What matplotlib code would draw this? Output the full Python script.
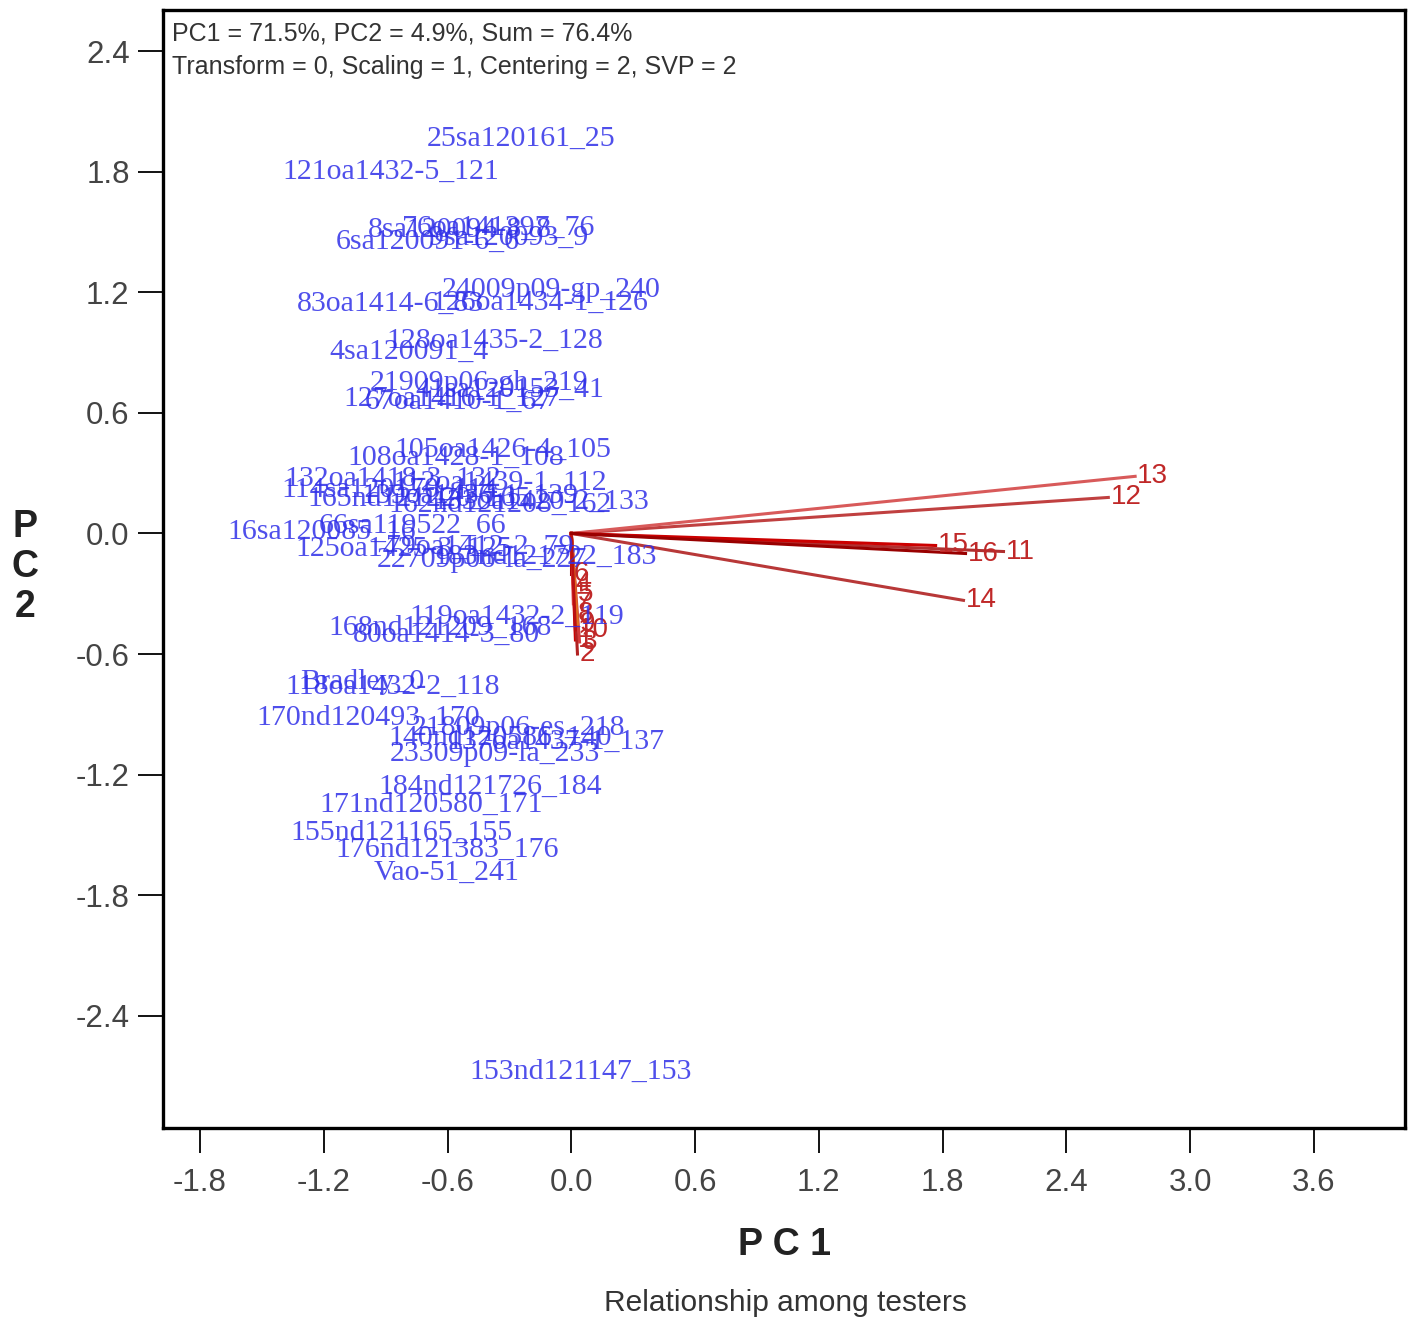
import matplotlib
matplotlib.use("Agg")
import matplotlib.pyplot as plt

# genotype scores (PC1, PC2)
gen_names = ["25sa120161_25", "121oa1432-5_121", "8sa120094-8_8", "76oa141397_76",
             "6sa120091-6_6", "9sa120093_9", "24009p09-gp_240", "126oa1434-1_126",
             "83oa1414-6_83", "128oa1435-2_128", "4sa120091_4", "21909p06-gh_219",
             "127oa1416-1_127", "67oa1410-1_67", "41sa120153_41", "105oa1426-4_105",
             "108oa1428-1_108", "132oa1418-3_132", "112oa1439-1_112", "114sa120170_114",
             "165nd121220_165", "139oa1436-1_139", "133oa1420-2_133", "162nd121208_162",
             "66sa119522_66", "16sa120085_16", "125oa1425-3_125", "79oa1412-2_79",
             "22709p06-la_227", "183nd121722_183", "119oa1432-2_119", "168nd121209_168",
             "80oa1414-3_80", "Bradley_0", "118oa1432-2_118", "170nd120493_170",
             "21809p06-es_218", "140nd120586_140", "137oa1437-1_137", "23309p09-la_233",
             "184nd121726_184", "171nd120580_171", "155nd121165_155", "176nd121383_176",
             "Vao-51_241", "153nd121147_153"]
gen_pc1 = [-0.244, -0.874, -0.540, -0.355, -0.695, -0.302, -0.098, -0.152,
           -0.879, -0.370, -0.787, -0.447, -0.578, -0.549, -0.297, -0.331,
           -0.559, -0.864, -0.346, -0.879, -0.738, -0.491, -0.147, -0.346,
           -0.767, -1.208, -0.811, -0.443, -0.433, -0.128, -0.263, -0.636,
           -0.603, -1.014, -0.864, -0.986, -0.258, -0.346, -0.074, -0.370,
           -0.394, -0.680, -0.825, -0.603, -0.603, 0.047]
gen_pc2 = [1.963, 1.798, 1.510, 1.520, 1.450, 1.470, 1.211, 1.147,
           1.142, 0.958, 0.903, 0.749, 0.669, 0.654, 0.714, 0.415,
           0.376, 0.271, 0.251, 0.216, 0.172, 0.187, 0.157, 0.142,
           0.037, 0.007, -0.077, -0.067, -0.132, -0.117, -0.415, -0.470,
           -0.505, -0.739, -0.764, -0.918, -0.968, -1.017, -1.037, -1.097,
           -1.261, -1.351, -1.490, -1.575, -1.689, -2.679]

# tester vectors
tester_names = ["1", "2", "3", "4", "5", "6", "7", "8", "9", "10",
                "11", "12", "13", "14", "15", "16"]
tester_pc1 = [0.02, 0.03, 0.04, 0.01, 0.02, 0.00, 0.01, 0.02, 0.03, 0.02,
              2.095, 2.603, 2.733, 1.901, 1.766, 1.911]
tester_pc2 = [-0.53, -0.60, -0.54, -0.25, -0.30, -0.20, -0.35, -0.40, -0.45, -0.48,
              -0.09, 0.179, 0.284, -0.333, -0.06, -0.10]
tester_cols = ["#cc0000", "#b22222", "#d43a3a", "#e06000", "#cc2020", "#aa0000",
               "#dd4444", "#c81818", "#e07020", "#bb1111",
               "#b03030", "#c04040", "#d85a5a", "#b83838", "#cc0000", "#990000"]

fig = plt.figure(figsize=(14.09, 13.27), dpi=100)
ax = fig.add_axes([163/1409, 1-1128/1327, (1405-163)/1409, (1128-10)/1327])

for i in range(len(tester_names)):
    ax.plot([0, tester_pc1[i]], [0, tester_pc2[i]], color=tester_cols[i], lw=2.2)
    ax.text(tester_pc1[i] + 0.01, tester_pc2[i], tester_names[i], color="#c02828",
            fontsize=20, family="Liberation Sans", ha="left", va="center")

for n, x, y in zip(gen_names, gen_pc1, gen_pc2):
    ax.text(x, y, n, color="#3030e8", alpha=0.85, fontsize=21.5,
            family="Liberation Serif", ha="center", va="center")

ax.set_xlim(-1.979, 4.041)
ax.set_ylim(-2.958, 2.604)
ax.set_xticks([-1.8, -1.2, -0.6, 0.0, 0.6, 1.2, 1.8, 2.4, 3.0, 3.6])
ax.set_yticks([-2.4, -1.8, -1.2, -0.6, 0.0, 0.6, 1.2, 1.8, 2.4])
ax.set_xticklabels(["-1.8", "-1.2", "-0.6", "0.0", "0.6", "1.2", "1.8", "2.4", "3.0", "3.6"])
ax.set_yticklabels(["-2.4", "-1.8", "-1.2", "-0.6", "0.0", "0.6", "1.2", "1.8", "2.4"])
ax.tick_params(axis="x", direction="out", length=18, width=1.3, pad=11,
               labelsize=22.5, labelcolor="#444444")
ax.tick_params(axis="y", direction="out", length=18, width=1.3, pad=6,
               labelsize=22.5, labelcolor="#444444")
for lab in ax.get_xticklabels() + ax.get_yticklabels():
    lab.set_family("Liberation Sans")
for s in ax.spines.values():
    s.set_linewidth(2.4)

ax.text(0.007, 0.99, "PC1 = 71.5%, PC2 = 4.9%, Sum = 76.4%", transform=ax.transAxes,
        fontsize=18, family="Liberation Sans", color="#333333", ha="left", va="top")
ax.text(0.007, 0.96, "Transform = 0, Scaling = 1, Centering = 2, SVP = 2", transform=ax.transAxes,
        fontsize=18, family="Liberation Sans", color="#333333", ha="left", va="top")

fig.text(785/1409, 1-1245/1327, "P C 1", fontsize=27, fontweight="bold",
         family="Liberation Sans", color="#222222", ha="center", va="center")
fig.text(785/1409, 1-1303/1327, "Relationship among testers", fontsize=21.5,
         family="Liberation Sans", color="#333333", ha="center", va="center")
fig.text(25/1409, 1-567/1327, "P\nC\n2", fontsize=27, fontweight="bold",
         family="Liberation Sans", color="#222222", ha="center", va="center",
         linespacing=1.15)

fig.savefig("out.png", dpi=100)
